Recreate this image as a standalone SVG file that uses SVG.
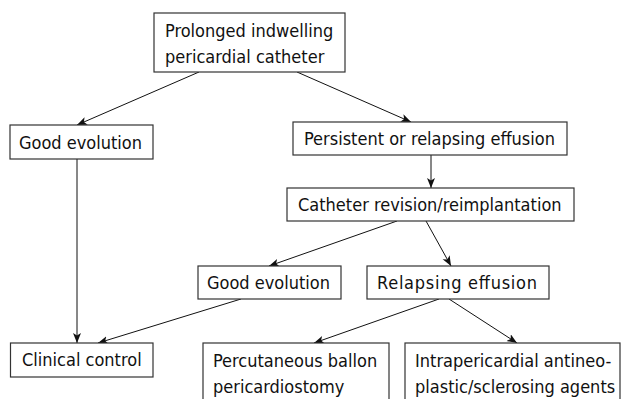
<svg xmlns="http://www.w3.org/2000/svg" width="622" height="399" viewBox="0 0 622 399">
<defs>
<style>
.box{fill:#fff;stroke:#333;stroke-width:1.2}
.t{font-family:"DejaVu Sans Condensed","DejaVu Sans",sans-serif;font-stretch:condensed;font-size:18px;fill:#111}
.c{stroke:#111;stroke-width:1;fill:none;marker-end:url(#ah)}
</style>
<marker id="ah" markerUnits="userSpaceOnUse" markerWidth="11" markerHeight="9" refX="10" refY="4" orient="auto">
<path d="M0,0 L10,4 L0,8 L2.5,4 z" fill="#111"/>
</marker>
</defs>
<rect width="622" height="399" fill="#fff"/>
<g id="connectors">
<line class="c" x1="199" y1="72" x2="77" y2="125"/>
<line class="c" x1="297" y1="72" x2="411" y2="122"/>
<line class="c" x1="431" y1="155" x2="431" y2="188"/>
<line class="c" x1="77" y1="159" x2="77" y2="343"/>
<line class="c" x1="397" y1="221" x2="269" y2="266"/>
<line class="c" x1="426" y1="221" x2="451" y2="266"/>
<line class="c" x1="241" y1="299" x2="98" y2="343"/>
<line class="c" x1="439" y1="299" x2="314" y2="343"/>
<line class="c" x1="449" y1="299" x2="517" y2="343"/>
</g>
<g id="n1"><rect class="box" x="154" y="13" width="191" height="59"/><text class="t" x="165" y="37">Prolonged indwelling</text><text class="t" x="165" y="63">pericardial catheter</text></g>
<g id="n2"><rect class="box" x="10" y="125" width="143" height="34"/><text class="t" x="19" y="149">Good evolution</text></g>
<g id="n3"><rect class="box" x="293" y="122" width="274" height="33"/><text class="t" x="304" y="145">Persistent or relapsing effusion</text></g>
<g id="n4"><rect class="box" x="287" y="188" width="287" height="33"/><text class="t" x="298" y="211">Catheter revision/reimplantation</text></g>
<g id="n5"><rect class="box" x="198" y="266" width="143" height="33"/><text class="t" x="207" y="289">Good evolution</text></g>
<g id="n6"><rect class="box" x="367" y="266" width="182" height="33"/><text class="t" x="377" y="289" textLength="160" lengthAdjust="spacing">Relapsing effusion</text></g>
<g id="n7"><rect class="box" x="10.5" y="343" width="142.5" height="34"/><text class="t" x="22" y="366">Clinical control</text></g>
<g id="n8"><rect class="box" x="203" y="343" width="186" height="70"/><text class="t" x="213" y="367">Percutaneous ballon</text><text class="t" x="213" y="393">pericardiostomy</text></g>
<g id="n9"><rect class="box" x="405" y="343" width="215" height="70"/><text class="t" x="415" y="367">Intrapericardial antineo-</text><text class="t" x="415" y="393">plastic/sclerosing agents</text></g>
</svg>
